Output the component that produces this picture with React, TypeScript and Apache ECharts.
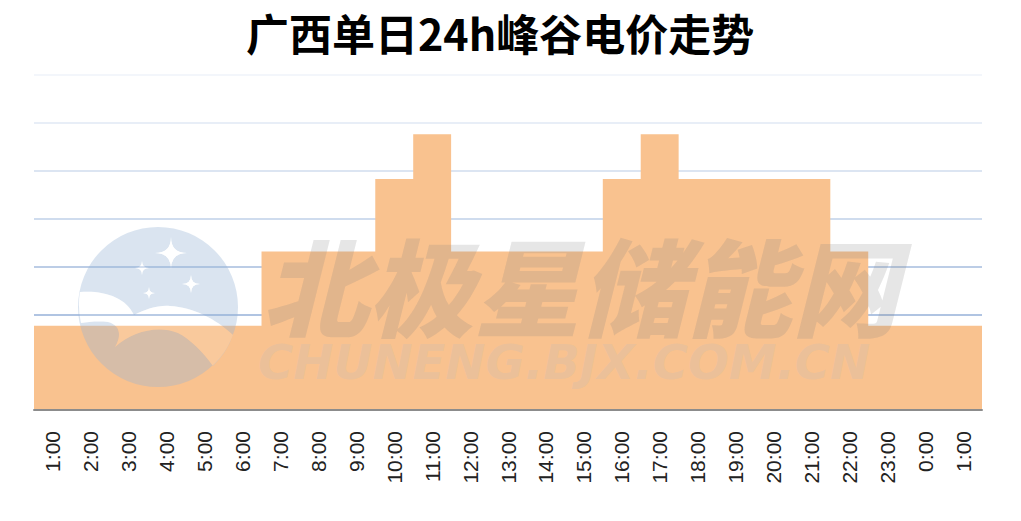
import React, { useEffect, useRef } from "react";
import * as echarts from "echarts";

const titleText = "广西单日24h峰谷电价走势";
const hours = [
  "1:00", "2:00", "3:00", "4:00", "5:00", "6:00", "7:00", "8:00", "9:00",
  "10:00", "11:00", "12:00", "13:00", "14:00", "15:00", "16:00", "17:00",
  "18:00", "19:00", "20:00", "21:00", "22:00", "23:00", "0:00", "1:00",
];
const prices = [
  0.352, 0.352, 0.352, 0.352, 0.352, 0.352,
  0.662, 0.662, 0.662,
  0.965, 1.152,
  0.662, 0.662, 0.662, 0.662,
  0.965, 1.152,
  0.965, 0.965, 0.965, 0.965,
  0.662,
  0.352, 0.352, 0.352,
];
const yMin = 0;
const yMax = 1.4;
const yStep = 0.2;
const splitColors = [
  "#b0c4e2", "#b0c4e2", "#b0c4e2", "#bccde6", "#cfdcee", "#dce5f2", "#e8eef7", "#f3f6fb",
];
const watermarkCn = "北极星储能网";
const watermarkEn = "CHUNENG.BJX.COM.CN";

function star(cx: number, cy: number, r: number) {
  return `M${cx},${cy - r} Q${cx},${cy} ${cx + r},${cy} Q${cx},${cy} ${cx},${cy + r} Q${cx},${cy} ${cx - r},${cy} Q${cx},${cy} ${cx},${cy - r} Z`;
}

function logoUrl() {
  const circle = "M0,80 A80,80 0 1 0 160,80 A80,80 0 1 0 0,80 Z";
  const band =
    "M2,65 C25,63 48,70 56,88 C68,82 80,78 92,79 C115,80 138,92 155,108 A80,80 0 0 1 135,139 C125,125 112,112 100,106 C80,98 55,104 37,120 C44,108 42,98 30,95 C20,94 10,95 3,96 A80,80 0 0 1 2,65 Z";
  const stars = star(93, 26, 16) + star(64, 41, 7) + star(113, 57, 9) + star(71, 66, 6);
  const svg = `<svg xmlns="http://www.w3.org/2000/svg" width="160" height="160" viewBox="0 0 160 160"><path fill-rule="evenodd" fill="rgb(150,180,215)" d="${circle} ${band} ${stars}"/><path fill="#ffffff" fill-opacity="0.35" d="${band}"/><path fill="#ffffff" d="${stars}"/></svg>`;
  return "data:image/svg+xml;charset=utf-8," + encodeURIComponent(svg);
}

export default function App() {
  const ref = useRef<HTMLDivElement>(null);
  useEffect(() => {
    document.body.style.margin = "0";
    if (!ref.current) return;
    const chart = echarts.init(ref.current, null, { renderer: "svg" });
    const stepData = prices.map((p, i) => [i, p]);
    stepData.push([hours.length, prices[prices.length - 1]]);
    chart.setOption({
      animation: false,
      backgroundColor: "#ffffff",
      title: {
        text: titleText,
        left: 241,
        top: 5,
        textStyle: {
          fontSize: 43,
          fontWeight: "bold",
          fontFamily: "Noto Sans CJK SC",
          color: "#000000",
        },
      },
      grid: { left: 34, right: 39, top: 75, bottom: 111 },
      xAxis: [
        {
          type: "category",
          data: hours,
          boundaryGap: true,
          z: 5,
          axisLine: { lineStyle: { color: "#8c8c8c", width: 2 } },
          axisTick: { length: 6, lineStyle: { color: "#8c8c8c", width: 2 } },
          axisLabel: {
            rotate: 90,
            interval: 0,
            margin: 21,
            fontSize: 21,
            fontFamily: "Liberation Sans",
            color: "#222222",
          },
        },
        {
          type: "value",
          min: 0,
          max: hours.length,
          show: false,
        },
      ],
      yAxis: {
        type: "value",
        min: yMin,
        max: yMax,
        interval: yStep,
        axisLine: { show: false },
        axisTick: { show: false },
        axisLabel: { show: false },
        splitLine: { show: true, lineStyle: { color: splitColors, width: 2 } },
      },
      series: [
        {
          type: "line",
          xAxisIndex: 1,
          data: stepData,
          step: "end",
          symbol: "none",
          lineStyle: { width: 0, color: "#f9c28f" },
          areaStyle: { color: "#f9c28f", opacity: 1 },
        },
      ],
      graphic: [
        {
          type: "image",
          x: 78,
          y: 227,
          z: 100,
          style: { image: logoUrl(), width: 160, height: 160, opacity: 0.35 },
        },
        {
          type: "text",
          x: 258,
          y: 230,
          z: 100,
          style: {
            text: `{cn|${watermarkCn}}\n{en|${watermarkEn}}`,
            textVerticalAlign: "top",
            rich: {
              cn: {
                fontSize: 106,
                lineHeight: 106,
                fontWeight: 900,
                fontStyle: "italic",
                fontFamily: "Noto Sans CJK SC",
                fill: "rgba(130,130,130,0.2)",
                padding: [0, 0, 0, 4],
              },
              en: {
                fontSize: 48,
                lineHeight: 52,
                fontWeight: "bold",
                fontStyle: "italic",
                fontFamily: "DejaVu Sans",
                fill: "rgba(200,190,180,0.3)",
              },
            },
          },
        },
      ],
    });
    return () => chart.dispose();
  }, []);
  return <div ref={ref} style={{ width: 1021, height: 521 }} />;
}
